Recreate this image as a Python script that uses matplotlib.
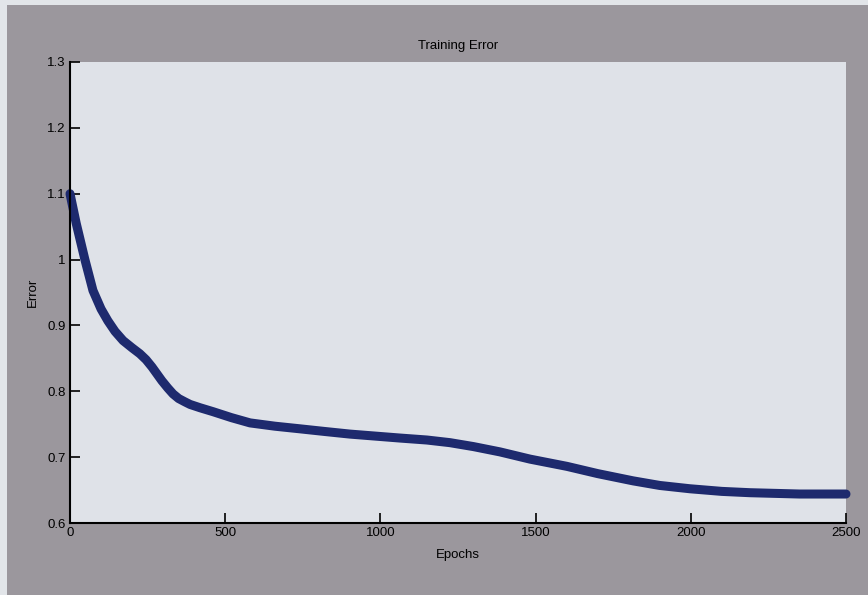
import matplotlib
matplotlib.use("Agg")
import matplotlib.pyplot as plt
from matplotlib.patches import Rectangle

# Data
epochs = [0, 20, 48, 74, 100, 122, 145, 171, 200, 225, 245, 264, 296, 315, 332, 350,
          370, 387, 419, 461, 520, 580, 660, 741, 820, 902, 1063, 1150, 1224, 1300,
          1385, 1482, 1601, 1700, 1814, 1900, 1997, 2100, 2191, 2350, 2500]
error = [1.100, 1.055, 1.000, 0.953, 0.925, 0.907, 0.891, 0.877, 0.866, 0.857,
         0.848, 0.837, 0.816, 0.805, 0.796, 0.789, 0.784, 0.780, 0.775, 0.769,
         0.760, 0.752, 0.747, 0.743, 0.739, 0.735, 0.729, 0.726, 0.722, 0.716,
         0.708, 0.697, 0.686, 0.675, 0.664, 0.657, 0.652, 0.648, 0.646, 0.644, 0.644]
xticks = [0, 500, 1000, 1500, 2000, 2500]
yticks = [0.6, 0.7, 0.8, 0.9, 1.0, 1.1, 1.2, 1.3]
yticklabels = ["0.6", "0.7", "0.8", "0.9", "1", "1.1", "1.2", "1.3"]

plt.rcParams['font.family'] = ['Liberation Sans', 'DejaVu Sans']

W, H = 868, 595
fig = plt.figure(figsize=(W / 100, H / 100), dpi=100)
fig.patch.set_facecolor('#e2e5e9')
fig.add_artist(Rectangle((7 / W, 0), 1 - 7 / W, 1 - 5 / H, transform=fig.transFigure,
                         facecolor='#9b979d', edgecolor='none', zorder=0))

ax = fig.add_axes([70 / W, 1 - 523 / H, (846 - 70) / W, (523 - 62) / H])
ax.set_facecolor('#dfe2e8')

ax.plot(epochs, error, color='#1e2a6e', linewidth=6.5, solid_capstyle='round',
        solid_joinstyle='round', clip_on=False)

ax.set_xlim(0, 2500)
ax.set_ylim(0.6, 1.3)
ax.set_xticks(xticks)
ax.set_yticks(yticks)
ax.set_yticklabels(yticklabels)
ax.tick_params(direction='in', length=7, width=1.2, labelsize=9.5, colors='black', pad=3)
for s in ['top', 'right']:
    ax.spines[s].set_visible(False)
for s in ['left', 'bottom']:
    ax.spines[s].set_linewidth(1.5)
    ax.spines[s].set_color('black')

ax.set_title('Training Error', fontsize=9.5, pad=9)
ax.set_xlabel('Epochs', fontsize=9.5, labelpad=7)
ax.set_ylabel('Error', fontsize=9.5, labelpad=6)

fig.savefig('out.png', dpi=100, facecolor=fig.get_facecolor())
